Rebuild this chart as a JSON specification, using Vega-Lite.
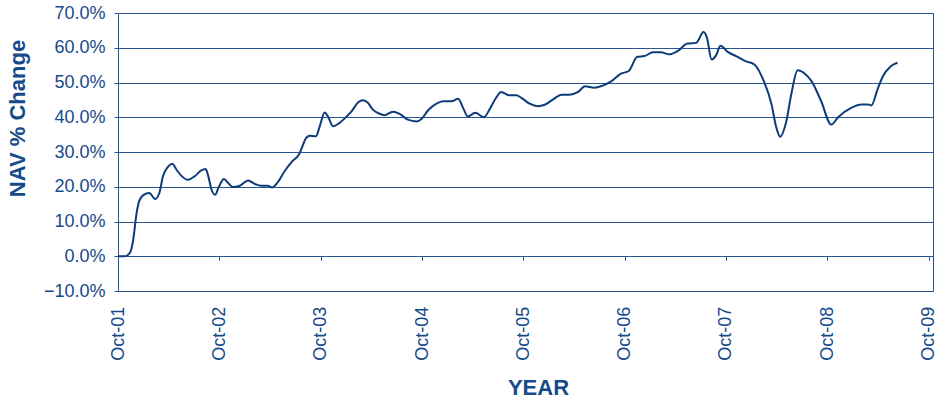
{
  "$schema": "https://vega.github.io/schema/vega-lite/v6.json",
  "width": 815,
  "height": 278,
  "autosize": {"type": "none"},
  "padding": {"left": 118, "top": 13, "right": 8, "bottom": 111},
  "background": "white",
  "config": {
    "font": "Liberation Sans",
    "view": {"stroke": "#2a5590", "strokeWidth": 1}
  },
  "data": {
    "values": [
      {"date": "2001-10-01", "nav": 0.0},
      {"date": "2001-10-26", "nav": 0.0},
      {"date": "2001-11-13", "nav": 1.0},
      {"date": "2001-11-25", "nav": 4.8},
      {"date": "2001-12-07", "nav": 12.4},
      {"date": "2001-12-16", "nav": 15.8},
      {"date": "2001-12-31", "nav": 17.6},
      {"date": "2002-01-22", "nav": 18.2},
      {"date": "2002-02-12", "nav": 16.5},
      {"date": "2002-02-27", "nav": 18.2},
      {"date": "2002-03-12", "nav": 23.0},
      {"date": "2002-03-30", "nav": 25.7},
      {"date": "2002-04-15", "nav": 26.6},
      {"date": "2002-04-30", "nav": 24.9},
      {"date": "2002-05-17", "nav": 23.2},
      {"date": "2002-06-10", "nav": 22.0},
      {"date": "2002-07-04", "nav": 23.0},
      {"date": "2002-07-28", "nav": 24.7},
      {"date": "2002-08-13", "nav": 25.1},
      {"date": "2002-08-21", "nav": 23.5},
      {"date": "2002-09-03", "nav": 19.2},
      {"date": "2002-09-16", "nav": 17.7},
      {"date": "2002-09-30", "nav": 20.1},
      {"date": "2002-10-18", "nav": 22.2},
      {"date": "2002-11-02", "nav": 21.1},
      {"date": "2002-11-20", "nav": 19.9},
      {"date": "2002-12-14", "nav": 20.3},
      {"date": "2003-01-13", "nav": 21.8},
      {"date": "2003-02-07", "nav": 20.8},
      {"date": "2003-03-01", "nav": 20.3},
      {"date": "2003-03-25", "nav": 20.3},
      {"date": "2003-04-10", "nav": 19.8},
      {"date": "2003-04-30", "nav": 21.3},
      {"date": "2003-05-24", "nav": 24.4},
      {"date": "2003-06-21", "nav": 27.3},
      {"date": "2003-07-15", "nav": 29.2},
      {"date": "2003-08-11", "nav": 34.1},
      {"date": "2003-08-23", "nav": 34.7},
      {"date": "2003-09-14", "nav": 34.5},
      {"date": "2003-09-28", "nav": 37.3},
      {"date": "2003-10-16", "nav": 41.4},
      {"date": "2003-10-28", "nav": 40.2},
      {"date": "2003-11-15", "nav": 37.4},
      {"date": "2003-12-09", "nav": 38.4},
      {"date": "2004-01-03", "nav": 40.2},
      {"date": "2004-01-21", "nav": 41.7},
      {"date": "2004-02-14", "nav": 44.3},
      {"date": "2004-03-02", "nav": 44.9},
      {"date": "2004-03-18", "nav": 44.3},
      {"date": "2004-04-07", "nav": 42.2},
      {"date": "2004-05-01", "nav": 41.0},
      {"date": "2004-05-19", "nav": 40.6},
      {"date": "2004-06-18", "nav": 41.6},
      {"date": "2004-07-12", "nav": 41.0},
      {"date": "2004-08-11", "nav": 39.3},
      {"date": "2004-09-11", "nav": 38.8},
      {"date": "2004-09-29", "nav": 39.5},
      {"date": "2004-10-23", "nav": 42.0},
      {"date": "2004-11-22", "nav": 43.9},
      {"date": "2004-12-16", "nav": 44.6},
      {"date": "2005-01-15", "nav": 44.6},
      {"date": "2005-02-08", "nav": 45.3},
      {"date": "2005-02-26", "nav": 42.7},
      {"date": "2005-03-15", "nav": 40.2},
      {"date": "2005-04-11", "nav": 41.3},
      {"date": "2005-05-12", "nav": 40.0},
      {"date": "2005-06-01", "nav": 42.2},
      {"date": "2005-06-25", "nav": 45.6},
      {"date": "2005-07-13", "nav": 47.3},
      {"date": "2005-08-12", "nav": 46.3},
      {"date": "2005-09-06", "nav": 46.3},
      {"date": "2005-09-24", "nav": 45.6},
      {"date": "2005-10-24", "nav": 43.9},
      {"date": "2005-11-23", "nav": 43.2},
      {"date": "2005-12-17", "nav": 43.6},
      {"date": "2006-01-16", "nav": 45.1},
      {"date": "2006-02-16", "nav": 46.5},
      {"date": "2006-03-16", "nav": 46.5},
      {"date": "2006-04-15", "nav": 47.2},
      {"date": "2006-05-12", "nav": 48.9},
      {"date": "2006-06-14", "nav": 48.5},
      {"date": "2006-07-14", "nav": 49.1},
      {"date": "2006-08-14", "nav": 50.3},
      {"date": "2006-09-17", "nav": 52.5},
      {"date": "2006-10-16", "nav": 53.3},
      {"date": "2006-11-16", "nav": 57.4},
      {"date": "2006-12-12", "nav": 57.6},
      {"date": "2007-01-11", "nav": 58.7},
      {"date": "2007-02-10", "nav": 58.7},
      {"date": "2007-03-11", "nav": 58.1},
      {"date": "2007-04-10", "nav": 59.0},
      {"date": "2007-05-16", "nav": 61.2},
      {"date": "2007-06-16", "nav": 61.4},
      {"date": "2007-07-13", "nav": 64.5},
      {"date": "2007-07-25", "nav": 62.9},
      {"date": "2007-08-11", "nav": 56.6},
      {"date": "2007-08-27", "nav": 57.8},
      {"date": "2007-09-12", "nav": 60.6},
      {"date": "2007-10-08", "nav": 58.8},
      {"date": "2007-11-07", "nav": 57.6},
      {"date": "2007-12-13", "nav": 56.1},
      {"date": "2008-01-12", "nav": 55.2},
      {"date": "2008-02-15", "nav": 50.4},
      {"date": "2008-03-14", "nav": 43.7},
      {"date": "2008-03-30", "nav": 37.4},
      {"date": "2008-04-14", "nav": 34.4},
      {"date": "2008-05-05", "nav": 38.4},
      {"date": "2008-05-25", "nav": 47.0},
      {"date": "2008-06-16", "nav": 53.5},
      {"date": "2008-07-12", "nav": 52.5},
      {"date": "2008-08-05", "nav": 50.4},
      {"date": "2008-09-09", "nav": 44.6},
      {"date": "2008-10-15", "nav": 37.9},
      {"date": "2008-11-10", "nav": 40.1},
      {"date": "2008-12-26", "nav": 42.7},
      {"date": "2009-02-01", "nav": 43.7},
      {"date": "2009-02-25", "nav": 43.7},
      {"date": "2009-03-09", "nav": 43.4},
      {"date": "2009-03-31", "nav": 48.0},
      {"date": "2009-04-18", "nav": 51.6},
      {"date": "2009-05-18", "nav": 54.7},
      {"date": "2009-06-11", "nav": 55.7}
    ]
  },
  "mark": {"type": "line", "color": "#0d3c7a", "strokeWidth": 2, "interpolate": "monotone"},
  "encoding": {
    "x": {
      "field": "date",
      "type": "temporal",
      "scale": {
        "type": "utc",
        "domain": [
          {"year": 2001, "month": 10, "date": 1, "utc": true},
          {"year": 2009, "month": 10, "date": 17, "utc": true}
        ]
      },
      "axis": {
        "title": "YEAR",
        "values": [
          {"year": 2001, "month": 10, "date": 1, "utc": true},
          {"year": 2002, "month": 10, "date": 1, "utc": true},
          {"year": 2003, "month": 10, "date": 1, "utc": true},
          {"year": 2004, "month": 10, "date": 1, "utc": true},
          {"year": 2005, "month": 10, "date": 1, "utc": true},
          {"year": 2006, "month": 10, "date": 1, "utc": true},
          {"year": 2007, "month": 10, "date": 1, "utc": true},
          {"year": 2008, "month": 10, "date": 1, "utc": true},
          {"year": 2009, "month": 10, "date": 1, "utc": true}
        ],
        "labelExpr": "utcFormat(datum.value, '%b-%y')",
        "offset": -34.75,
        "domain": false,
        "grid": false,
        "ticks": true,
        "tickSize": 4,
        "tickColor": "#2a5590",
        "labelAngle": -90,
        "labelPadding": 46,
        "labelFontSize": 18,
        "labelColor": "#164a8a",
        "labelFlush": false,
        "labelOverlap": false,
        "titleFontSize": 22,
        "titleFontWeight": "bold",
        "titleColor": "#164a8a",
        "titleX": 420,
        "titleY": 131,
        "titleBaseline": "middle"
      }
    },
    "y": {
      "field": "nav",
      "type": "quantitative",
      "scale": {"domain": [-10, 70], "nice": false, "zero": false},
      "axis": {
        "title": "NAV % Change",
        "values": [-10, 0, 10, 20, 30, 40, 50, 60, 70],
        "labelExpr": "format(datum.value, '.1f') + '%'",
        "domain": true,
        "domainColor": "#2a5590",
        "grid": true,
        "gridColor": "#2a5590",
        "gridWidth": 1,
        "ticks": true,
        "tickSize": 4,
        "tickColor": "#2a5590",
        "labelPadding": 9,
        "labelFontSize": 18,
        "labelColor": "#164a8a",
        "labelFlush": false,
        "titleFontSize": 22,
        "titleFontWeight": "bold",
        "titleColor": "#164a8a",
        "titleX": -101,
        "titleY": 105,
        "titleBaseline": "middle",
        "titleAlign": "center",
        "titleAngle": -90
      }
    }
  }
}
